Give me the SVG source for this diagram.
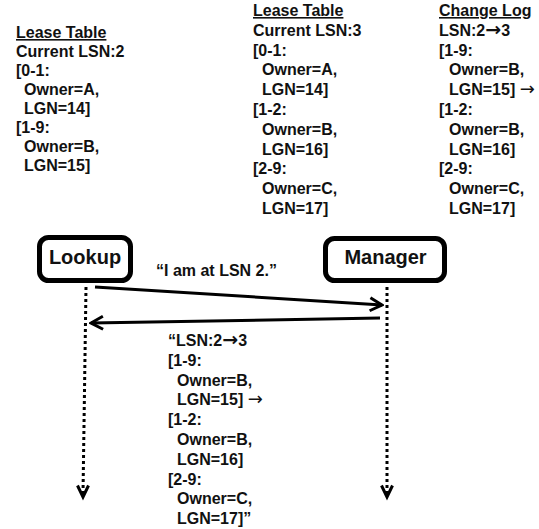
<svg xmlns="http://www.w3.org/2000/svg" width="539" height="529" viewBox="0 0 539 529">
  <style>
    text { font-family: "Liberation Sans", Arial, "DejaVu Sans", sans-serif; font-weight: bold; fill: #111; }
    .t { font-size: 16px; }
    .hd { font-size: 16px; text-decoration: underline; }
    .nm { font-size: 20px; text-anchor: middle; }
    .ar { font-family: "DejaVu Sans", sans-serif; font-weight: bold; font-size: 19px; }
    .arl { font-family: "DejaVu Sans", sans-serif; font-weight: normal; font-size: 18px; }
    .box { fill: #fff; stroke: #000; stroke-width: 5; }
    .msg { stroke: #000; stroke-width: 3; fill: none; }
    .life { stroke: #000; stroke-width: 3; stroke-dasharray: 3 3; fill: none; }
    .tip { stroke: #000; stroke-width: 3; fill: none; stroke-linejoin: miter; }
  </style>
  <defs>
    <marker id="chev" markerUnits="userSpaceOnUse" viewBox="0 0 16 16" refX="14" refY="8" markerWidth="16" markerHeight="16" orient="auto">
      <path d="M2,1.5 L14,8 L2,14.5" fill="none" stroke="#000" stroke-width="3"/>
    </marker>
  </defs>

  <rect width="539" height="529" fill="#fff"/>

  <!-- lease table held by the lookup side -->
  <g id="lookup-table">
    <text class="hd" x="16" y="38">Lease Table</text>
    <text class="t" x="16" y="57">Current LSN:2</text>
    <text class="t" x="16" y="76">[0-1:</text>
    <text class="t" x="24" y="95">Owner=A,</text>
    <text class="t" x="24" y="114">LGN=14]</text>
    <text class="t" x="16" y="133">[1-9:</text>
    <text class="t" x="24" y="152">Owner=B,</text>
    <text class="t" x="24" y="171">LGN=15]</text>
  </g>

  <!-- lease table held by the manager -->
  <g id="manager-table">
    <text class="hd" x="253" y="16">Lease Table</text>
    <text class="t" x="253" y="35.8">Current LSN:3</text>
    <text class="t" x="253" y="55.6">[0-1:</text>
    <text class="t" x="262" y="75.4">Owner=A,</text>
    <text class="t" x="262" y="95.2">LGN=14]</text>
    <text class="t" x="253" y="115">[1-2:</text>
    <text class="t" x="262" y="134.8">Owner=B,</text>
    <text class="t" x="262" y="154.6">LGN=16]</text>
    <text class="t" x="253" y="174.4">[2-9:</text>
    <text class="t" x="262" y="194.2">Owner=C,</text>
    <text class="t" x="262" y="214">LGN=17]</text>
  </g>

  <!-- change log kept by the manager -->
  <g id="change-log">
    <text class="hd" x="439" y="16">Change Log</text>
    <text class="t" x="439" y="35.8">LSN:2<tspan class="ar">→</tspan>3</text>
    <text class="t" x="439" y="55.6">[1-9:</text>
    <text class="t" x="449" y="75.4">Owner=B,</text>
    <text class="t" x="449" y="95.2">LGN=15] <tspan class="arl">→</tspan></text>
    <text class="t" x="439" y="115">[1-2:</text>
    <text class="t" x="449" y="134.8">Owner=B,</text>
    <text class="t" x="449" y="154.6">LGN=16]</text>
    <text class="t" x="439" y="174.4">[2-9:</text>
    <text class="t" x="449" y="194.2">Owner=C,</text>
    <text class="t" x="449" y="214">LGN=17]</text>
  </g>

  <!-- participants -->
  <g id="lookup">
    <rect class="box" x="39.5" y="237.5" width="91" height="43" rx="9"/>
    <text class="nm" x="85" y="264">Lookup</text>
  </g>
  <g id="manager">
    <rect class="box" x="325.5" y="238.5" width="119" height="42" rx="9"/>
    <text class="nm" x="385.5" y="264">Manager</text>
  </g>

  <!-- lifelines and messages -->
  <g id="connectors">
    <line class="life" x1="86" y1="287" x2="83" y2="494"/>
    <polyline class="tip" points="77.5,485.5 83,497 88.5,485.5"/>
    <line class="life" x1="387" y1="287" x2="387" y2="494"/>
    <polyline class="tip" points="381.5,485.5 387,497 392.5,485.5"/>
    <line class="msg" x1="95" y1="287" x2="382" y2="305" marker-end="url(#chev)"/>
    <line class="msg" x1="380" y1="318" x2="91" y2="323" marker-end="url(#chev)"/>
  </g>

  <!-- message labels -->
  <g id="labels">
    <text class="t" x="156" y="276">“I am at LSN 2.”</text>
    <text class="t" x="168" y="346">“LSN:2<tspan class="ar">→</tspan>3</text>
    <text class="t" x="168" y="365.8">[1-9:</text>
    <text class="t" x="177" y="385.6">Owner=B,</text>
    <text class="t" x="177" y="405.4">LGN=15] <tspan class="arl">→</tspan></text>
    <text class="t" x="168" y="425.2">[1-2:</text>
    <text class="t" x="177" y="445">Owner=B,</text>
    <text class="t" x="177" y="464.8">LGN=16]</text>
    <text class="t" x="168" y="484.6">[2-9:</text>
    <text class="t" x="177" y="504.4">Owner=C,</text>
    <text class="t" x="177" y="524.2">LGN=17]”</text>
  </g>
</svg>
